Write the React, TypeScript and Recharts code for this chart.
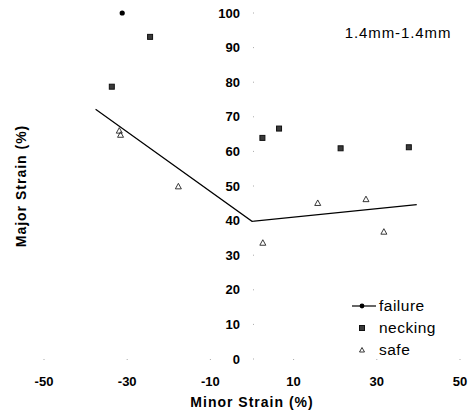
import React from 'react';
import { ScatterChart, Scatter, XAxis, YAxis, Legend } from 'recharts';

// Diagrama limite de conformação (1.4mm-1.4mm)
const failureX = [-31.2];
const failureY = [100];
const neckingX = [-24.5, -33.7, 2.5, 6.5, 21.3, 37.7];
const neckingY = [93.1, 78.7, 63.9, 66.6, 60.9, 61.2];
const safeX = [-31.9, -31.6, -17.7, 2.6, 15.8, 27.4, 31.7];
const safeY = [66.0, 64.8, 49.9, 33.6, 45.1, 46.2, 36.8];
const flcX = [-37.6, 0, 39.6];
const flcY = [72.2, 39.8, 44.6];
const xTicks = [-50, -30, -10, 10, 30, 50];
const yTicks = [0, 10, 20, 30, 40, 50, 60, 70, 80, 90, 100];

const zip = (xs: number[], ys: number[]) => xs.map((x, i) => ({ x, y: ys[i] }));
const failure = zip(failureX, failureY);
const necking = zip(neckingX, neckingY);
const safe = zip(safeX, safeY);
const flc = zip(flcX, flcY);

const W = 471;
const H = 416;
const M = { top: 13, right: 11, left: 43, bottom: 0 };
const Y_W = 1;
const FONT = 'Liberation Sans, Arial, sans-serif';
// posição do eixo Y (x = 0) dentro do gráfico
const PLOT_L = M.left + Y_W;
const ZERO_X = PLOT_L + (W - PLOT_L - M.right) / 2;

const Dot = ({ cx, cy }: any) => <circle cx={cx} cy={cy} r={2.6} fill="#000" />;
const Sq = ({ cx, cy }: any) => (
  <rect x={cx - 2.5} y={cy - 2.5} width={5} height={5} fill="#3a3a3a" stroke="#111" strokeWidth={1} />
);
const Tri = ({ cx, cy }: any) => (
  <polygon
    points={`${cx},${cy - 3} ${cx + 3},${cy + 2.5} ${cx - 3},${cy + 2.5}`}
    fill="none"
    stroke="#222"
    strokeWidth={0.9}
  />
);
const None = () => <g />;

function YTick({ y, payload }: any) {
  return (
    <g>
      <text
        x={ZERO_X - 12}
        y={y}
        dy={4.6}
        textAnchor="end"
        fontFamily={FONT}
        fontSize={13}
        fontWeight="bold"
        fill="#000"
      >
        {payload.value}
      </text>
      <line x1={ZERO_X + 1} x2={ZERO_X + 2} y1={y} y2={y} stroke="#aaa" />
    </g>
  );
}

function LegendBox() {
  const rows = [
    { key: 'failure', icon: <><line x1={2} x2={26} y1={11} y2={11} stroke="#000" strokeWidth={1.2} /><circle cx={12} cy={11} r={2.4} fill="#000" /></> },
    { key: 'necking', icon: <rect x={9.5} y={8.5} width={5} height={5} fill="#3a3a3a" stroke="#111" /> },
    { key: 'safe', icon: <polygon points="12,8.5 14.5,13 9.5,13" fill="none" stroke="#222" strokeWidth={0.9} /> },
  ];
  return (
    <div style={{ fontFamily: FONT, fontSize: 15.5, letterSpacing: 0.5, color: '#000' }}>
      {rows.map(r => (
        <div key={r.key} style={{ display: 'flex', alignItems: 'center', height: 22 }}>
          <svg width={28} height={22}>{r.icon}</svg>
          <span style={{ marginLeft: 1 }}>{r.key}</span>
        </div>
      ))}
    </div>
  );
}

export default function App() {
  return (
    <div style={{ position: 'absolute', left: 0, top: 0, background: '#fff' }}>
      <ScatterChart width={W} height={H} margin={M}>
        <XAxis
          type="number"
          dataKey="x"
          domain={[-50, 50]}
          ticks={xTicks}
          interval={0}
          height={57}
          axisLine={false}
          tickSize={1}
          tickLine={{ stroke: '#aaa' }}
          tickMargin={17}
          tick={{ fontFamily: FONT, fontSize: 13, fontWeight: 'bold', fill: '#000' }}
          label={{
            value: 'Minor Strain (%)',
            position: 'insideBottom',
            offset: 9,
            style: { fontFamily: FONT, fontSize: 14, fontWeight: 'bold', fill: '#000', letterSpacing: 1 },
          }}
        />
        <YAxis
          type="number"
          dataKey="y"
          domain={[0, 100]}
          ticks={yTicks}
          interval={0}
          width={Y_W}
          axisLine={false}
          tickLine={false}
          tick={<YTick />}
          label={{
            value: 'Major Strain (%)',
            angle: -90,
            position: 'insideLeft',
            offset: -22,
            style: { fontFamily: FONT, fontSize: 14, fontWeight: 'bold', fill: '#000', letterSpacing: 1, textAnchor: 'middle' },
          }}
        />
        <Legend
          layout="vertical"
          align="center"
          verticalAlign="middle"
          wrapperStyle={{ left: 350, top: 295, width: 110 }}
          content={() => <LegendBox />}
        />
        <Scatter name="flc" data={flc} line={{ stroke: '#000', strokeWidth: 1.2 }} shape={<None />} legendType="none" isAnimationActive={false} />
        <Scatter name="failure" data={failure} shape={<Dot />} isAnimationActive={false} />
        <Scatter name="necking" data={necking} shape={<Sq />} isAnimationActive={false} />
        <Scatter name="safe" data={safe} shape={<Tri />} isAnimationActive={false} />
        <text x={398} y={37.5} textAnchor="middle" fontFamily={FONT} fontSize={15} letterSpacing={0.9} fill="#000">
          1.4mm-1.4mm
        </text>
      </ScatterChart>
    </div>
  );
}
